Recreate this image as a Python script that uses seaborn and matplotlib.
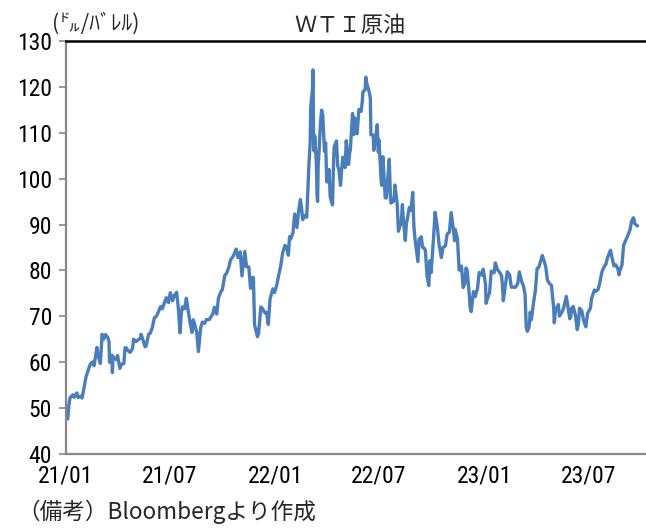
import matplotlib
matplotlib.use("Agg")
import matplotlib.pyplot as plt
from matplotlib import font_manager
import pandas as pd
import seaborn as sns

# WTI crude oil, front-month close (USD/bbl)
dates_2021 = [
    "2021-01-04", "2021-01-06", "2021-01-08", "2021-01-13", "2021-01-15", "2021-01-20", "2021-01-22",
    "2021-01-26", "2021-01-29", "2021-02-02", "2021-02-05", "2021-02-09", "2021-02-12", "2021-02-16",
    "2021-02-19", "2021-02-24", "2021-02-26", "2021-03-02", "2021-03-05", "2021-03-08", "2021-03-11",
    "2021-03-15", "2021-03-17", "2021-03-18", "2021-03-22", "2021-03-23", "2021-03-24", "2021-03-26",
    "2021-03-30", "2021-04-01", "2021-04-05", "2021-04-08", "2021-04-12", "2021-04-14", "2021-04-16",
    "2021-04-20", "2021-04-23", "2021-04-27", "2021-04-29", "2021-05-03", "2021-05-07", "2021-05-11",
    "2021-05-12", "2021-05-14", "2021-05-19", "2021-05-21", "2021-05-25", "2021-05-28", "2021-06-01",
    "2021-06-04", "2021-06-08", "2021-06-11", "2021-06-15", "2021-06-18", "2021-06-22", "2021-06-25",
    "2021-06-29", "2021-07-02", "2021-07-06", "2021-07-09", "2021-07-13", "2021-07-16", "2021-07-19",
    "2021-07-21", "2021-07-23", "2021-07-27", "2021-07-30", "2021-08-03", "2021-08-06", "2021-08-09",
    "2021-08-11", "2021-08-13", "2021-08-17", "2021-08-20", "2021-08-24", "2021-08-27", "2021-08-31",
    "2021-09-03", "2021-09-08", "2021-09-10", "2021-09-14", "2021-09-17", "2021-09-21", "2021-09-24",
    "2021-09-28", "2021-10-01", "2021-10-05", "2021-10-08", "2021-10-12", "2021-10-15", "2021-10-19",
    "2021-10-22", "2021-10-25", "2021-10-28", "2021-11-01", "2021-11-04", "2021-11-09", "2021-11-12",
    "2021-11-16", "2021-11-19", "2021-11-23", "2021-11-24", "2021-11-26", "2021-11-30", "2021-12-01",
    "2021-12-03", "2021-12-07", "2021-12-10", "2021-12-14", "2021-12-17", "2021-12-20", "2021-12-23",
    "2021-12-28", "2021-12-31",
]
wti_2021 = [
    47.62, 50.63, 52.24, 52.91, 52.36, 53.31, 52.27,
    52.61, 52.20, 54.76, 56.85, 58.36, 59.47, 60.05,
    59.24, 63.22, 61.50, 59.75, 66.09, 65.05, 66.02,
    65.39, 64.60, 60.00, 61.55, 57.76, 61.18, 60.97,
    60.55, 61.45, 58.65, 59.60, 59.70, 63.15, 63.13,
    62.44, 62.14, 62.94, 65.01, 64.49, 64.90, 65.28,
    66.08, 65.37, 63.36, 63.58, 66.07, 66.32, 67.72,
    69.62, 70.05, 70.91, 72.12, 71.64, 73.06, 74.05,
    72.98, 75.16, 73.37, 74.56, 75.25, 71.81, 66.42,
    70.30, 72.07, 71.65, 73.95, 70.56, 68.28, 66.48,
    69.25, 68.44, 66.59, 62.32, 67.54, 68.74, 68.50,
    69.29, 69.30, 69.72, 70.46, 71.97, 70.49, 73.98,
    75.29, 75.88, 78.93, 79.35, 80.64, 82.28, 82.96,
    83.76, 84.65, 82.81, 84.05, 78.81, 84.15, 80.79,
    80.76, 76.10, 78.50, 78.39, 68.15, 66.18, 65.57,
    66.26, 72.05, 71.67, 70.73, 70.86, 68.23, 73.79,
    75.98, 75.21,
]

dates_2022 = [
    "2022-01-04", "2022-01-07", "2022-01-11", "2022-01-14", "2022-01-18", "2022-01-21", "2022-01-24",
    "2022-01-26", "2022-01-28", "2022-02-01", "2022-02-04", "2022-02-08", "2022-02-11", "2022-02-14",
    "2022-02-16", "2022-02-18", "2022-02-23", "2022-02-25", "2022-03-01", "2022-03-03", "2022-03-04",
    "2022-03-07", "2022-03-08", "2022-03-09", "2022-03-10", "2022-03-11", "2022-03-14", "2022-03-15",
    "2022-03-16", "2022-03-17", "2022-03-18", "2022-03-21", "2022-03-23", "2022-03-25", "2022-03-28",
    "2022-03-30", "2022-04-01", "2022-04-05", "2022-04-07", "2022-04-11", "2022-04-13", "2022-04-14",
    "2022-04-18", "2022-04-20", "2022-04-22", "2022-04-25", "2022-04-27", "2022-04-29", "2022-05-03",
    "2022-05-05", "2022-05-09", "2022-05-11", "2022-05-12", "2022-05-16", "2022-05-18", "2022-05-20",
    "2022-05-24", "2022-05-27", "2022-05-31", "2022-06-02", "2022-06-03", "2022-06-07", "2022-06-08",
    "2022-06-10", "2022-06-14", "2022-06-16", "2022-06-17", "2022-06-21", "2022-06-22", "2022-06-24",
    "2022-06-28", "2022-06-30", "2022-07-01", "2022-07-05", "2022-07-06", "2022-07-08", "2022-07-12",
    "2022-07-14", "2022-07-15", "2022-07-19", "2022-07-21", "2022-07-22", "2022-07-26", "2022-07-28",
    "2022-07-29", "2022-08-02", "2022-08-04", "2022-08-05", "2022-08-09", "2022-08-11", "2022-08-12",
    "2022-08-16", "2022-08-18", "2022-08-19", "2022-08-23", "2022-08-26", "2022-08-29", "2022-08-31",
    "2022-09-02", "2022-09-07", "2022-09-09", "2022-09-13", "2022-09-15", "2022-09-16", "2022-09-20",
    "2022-09-23", "2022-09-26", "2022-09-28", "2022-09-30", "2022-10-04", "2022-10-07", "2022-10-11",
    "2022-10-14", "2022-10-18", "2022-10-20", "2022-10-21", "2022-10-25", "2022-10-28", "2022-11-01",
    "2022-11-04", "2022-11-08", "2022-11-10", "2022-11-11", "2022-11-15", "2022-11-18", "2022-11-22",
    "2022-11-25", "2022-11-28", "2022-11-30", "2022-12-02", "2022-12-06", "2022-12-07", "2022-12-09",
    "2022-12-13", "2022-12-16", "2022-12-20", "2022-12-23", "2022-12-28", "2022-12-30",
]
wti_2022 = [
    76.99, 78.90, 81.22, 83.82, 85.43, 85.14, 83.31,
    87.35, 86.82, 88.20, 92.31, 89.36, 93.10, 95.46,
    93.66, 91.07, 92.10, 91.59, 103.41, 107.67, 115.68,
    119.40, 123.70, 108.70, 106.02, 109.33, 103.01, 96.44,
    95.04, 102.98, 104.70, 112.12, 114.93, 113.90, 105.96,
    107.82, 99.27, 102.00, 96.03, 94.29, 104.25, 106.95,
    108.21, 102.75, 102.07, 98.54, 102.02, 104.69, 102.41,
    108.26, 103.09, 105.71, 106.13, 114.20, 109.59, 113.23,
    109.77, 115.07, 114.67, 116.87, 118.87, 119.41, 122.11,
    120.67, 118.93, 117.59, 109.56, 109.52, 106.19, 107.62,
    111.76, 105.76, 108.43, 99.50, 98.53, 104.79, 95.84,
    95.78, 97.59, 104.22, 96.35, 94.70, 94.98, 96.42,
    98.62, 94.42, 88.54, 89.01, 90.50, 94.34, 92.09,
    86.53, 90.50, 90.77, 93.74, 93.06, 97.01, 89.55,
    86.87, 81.94, 86.79, 87.31, 85.10, 85.11, 84.45,
    78.74, 76.71, 82.15, 79.49, 86.52, 92.64, 89.35,
    85.61, 82.82, 84.51, 85.05, 85.32, 87.90, 88.37,
    92.61, 88.91, 86.47, 88.96, 86.92, 80.08, 80.95,
    76.28, 77.24, 80.55, 79.98, 74.25, 72.01, 71.02,
    75.39, 74.29, 76.09, 79.56, 78.96, 80.26,
]

dates_2023 = [
    "2023-01-03", "2023-01-04", "2023-01-06", "2023-01-10", "2023-01-12", "2023-01-13", "2023-01-18",
    "2023-01-20", "2023-01-24", "2023-01-27", "2023-01-31", "2023-02-02", "2023-02-03", "2023-02-07",
    "2023-02-10", "2023-02-14", "2023-02-17", "2023-02-21", "2023-02-24", "2023-02-28", "2023-03-03",
    "2023-03-07", "2023-03-10", "2023-03-13", "2023-03-15", "2023-03-17", "2023-03-20", "2023-03-22",
    "2023-03-24", "2023-03-28", "2023-03-31", "2023-04-03", "2023-04-06", "2023-04-12", "2023-04-14",
    "2023-04-18", "2023-04-21", "2023-04-25", "2023-04-28", "2023-05-02", "2023-05-03", "2023-05-05",
    "2023-05-10", "2023-05-12", "2023-05-16", "2023-05-19", "2023-05-24", "2023-05-26", "2023-05-30",
    "2023-06-01", "2023-06-02", "2023-06-05", "2023-06-09", "2023-06-12", "2023-06-14", "2023-06-16",
    "2023-06-20", "2023-06-23", "2023-06-27", "2023-06-30", "2023-07-05", "2023-07-07", "2023-07-12",
    "2023-07-14", "2023-07-18", "2023-07-21", "2023-07-25", "2023-07-28", "2023-08-01", "2023-08-04",
    "2023-08-09", "2023-08-11", "2023-08-15", "2023-08-18", "2023-08-22", "2023-08-24", "2023-08-25",
    "2023-08-29", "2023-09-01", "2023-09-05", "2023-09-08", "2023-09-12", "2023-09-15", "2023-09-18",
    "2023-09-19", "2023-09-20", "2023-09-22", "2023-09-25",
]
wti_2023 = [
    76.93, 72.84, 73.77, 75.12, 78.39, 79.86, 79.48,
    81.64, 80.13, 79.68, 78.87, 75.88, 73.39, 77.14,
    79.72, 79.06, 76.34, 76.36, 76.32, 77.05, 79.68,
    77.58, 76.68, 74.80, 67.61, 66.74, 67.64, 70.90,
    69.26, 73.20, 75.67, 80.42, 80.70, 83.26, 82.52,
    80.86, 77.87, 77.07, 76.78, 71.66, 68.60, 71.34,
    72.56, 70.04, 70.86, 71.69, 74.34, 72.67, 69.46,
    70.10, 71.74, 72.15, 70.17, 67.12, 68.27, 71.78,
    71.19, 69.16, 67.70, 70.64, 71.79, 73.86, 75.75,
    75.42, 75.75, 77.07, 79.63, 80.58, 81.37, 82.82,
    84.40, 83.19, 80.99, 81.25, 80.35, 79.05, 79.83,
    81.16, 85.55, 86.69, 87.51, 88.84, 90.77, 91.48,
    91.20, 90.28, 90.03, 89.68,
]

y_ticks = [40, 50, 60, 70, 80, 90, 100, 110, 120, 130]
x_tick_dates = ["2021-01-01", "2021-07-01", "2022-01-01", "2022-07-01", "2023-01-01", "2023-07-01"]
x_tick_labels = ["21/01", "21/07", "22/01", "22/07", "23/01", "23/07"]

title_text = "ＷＴＩ原油"
unit_text = "(㌦/ﾊﾞﾚﾙ)"
source_text = "（備考）Bloombergより作成"

df = pd.DataFrame({
    "date": pd.to_datetime(dates_2021 + dates_2022 + dates_2023),
    "price": wti_2021 + wti_2022 + wti_2023,
})

sns.set_theme(style="white")
jp = ["Noto Sans CJK JP", "DejaVu Sans"]
plt.rcParams["font.family"] = jp


def pick_tick_font():
    """Prefer a narrow sans face for the axis numbers."""
    entries = font_manager.fontManager.ttflist
    for want in ("Liberation Sans Narrow", "Arial Narrow", "Roboto Condensed", "Open Sans Condensed"):
        for f in entries:
            if f.name == want and f.style == "normal" and f.weight in (400, "normal", "regular"):
                return font_manager.FontProperties(fname=f.fname), True
    for f in entries:
        if str(f.stretch) in ("condensed", "semi-condensed") and f.style == "normal" \
                and f.weight in (400, "normal", "regular") and f.name in ("Noto Sans", "DejaVu Sans", "Open Sans"):
            return font_manager.FontProperties(fname=f.fname), True
    return font_manager.FontProperties(family="Liberation Sans"), False


tick_font, is_narrow = pick_tick_font()
tick_size = 17 if is_narrow else 14.5

fig = plt.figure(figsize=(6.46, 5.30), dpi=100)
ax = fig.add_axes([66 / 646, 76 / 530, 580 / 646, 413 / 530])

sns.lineplot(data=df, x="date", y="price", ax=ax, color="#4A7EBB", linewidth=2.4)

ax.set_ylim(40, 130)
ax.set_xlim(pd.Timestamp("2021-01-02"), pd.Timestamp("2023-10-10"))
ax.set_yticks(y_ticks)
ax.set_xticks(pd.to_datetime(x_tick_dates))
ax.set_xticklabels(x_tick_labels)
ax.set_xlabel("")
ax.set_ylabel("")

for lab in ax.get_yticklabels() + ax.get_xticklabels():
    lab.set_fontproperties(tick_font)
    lab.set_fontsize(tick_size)
    lab.set_color("black")

ax.tick_params(axis="y", length=5, width=1.2, color="#888888", pad=5, left=True)
ax.tick_params(axis="x", length=0, pad=7.5)

ax.spines["right"].set_visible(False)
ax.spines["left"].set_color("#888888")
ax.spines["left"].set_linewidth(1.6)
ax.spines["bottom"].set_color("#888888")
ax.spines["bottom"].set_linewidth(1.6)
ax.spines["top"].set_color("black")
ax.spines["top"].set_linewidth(1.8)

fig.text(350 / 646, 1 - 25 / 530, title_text, ha="center", va="center", fontsize=16, family=jp)
fig.text(52 / 646, 1 - 23 / 530, unit_text, ha="left", va="center", fontsize=15.5, family=jp)
fig.text(17 / 646, 1 - 512 / 530, source_text, ha="left", va="center", fontsize=16.3, family=jp)

fig.savefig("out.png", dpi=100)
